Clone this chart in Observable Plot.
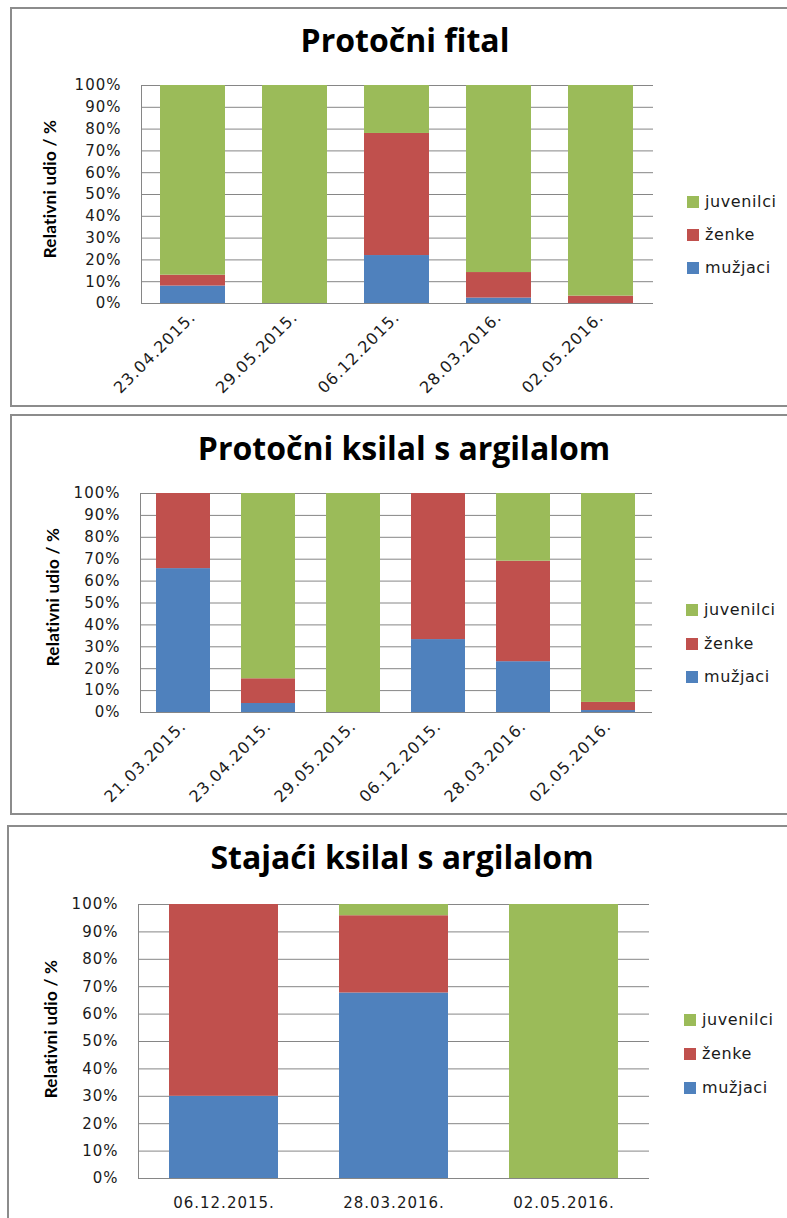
<!DOCTYPE html>
<html><head><meta charset="utf-8">
<script src="https://cdn.jsdelivr.net/npm/d3@7"></script>
<script src="https://cdn.jsdelivr.net/npm/@observablehq/plot@0.6"></script>
<style>
body{margin:0;background:#fff;}
#page{position:relative;width:787px;height:1218px;overflow:hidden;font-family:"DejaVu Sans",sans-serif;}
.panel{position:absolute;border:2px solid #8c8c8c;box-sizing:border-box;}
.title{position:absolute;width:600px;margin-left:-300px;text-align:center;font-family:"Open Sans",sans-serif;font-weight:bold;font-size:32px;line-height:32px;color:#000;white-space:nowrap;}
.ytitle{position:absolute;font-family:Lato,sans-serif;font-weight:bold;font-size:17px;letter-spacing:0.3px;white-space:nowrap;color:#000;transform:translate(-50%,-50%) rotate(-90deg);}
.chart{position:absolute;left:0;}
.leg{position:absolute;display:flex;align-items:center;font-size:16px;letter-spacing:0.6px;color:#1a1a1a;line-height:20px;height:20px;white-space:nowrap;}
.sw{width:12px;height:12px;margin-right:6px;flex:none;}
</style>
</head><body>
<div id="page"></div>
<script>
const series = ["mužjaci", "ženke", "juvenilci"];
const colors = ["#4F81BD", "#C0504D", "#9BBB59"];
const yTicks = [0, 10, 20, 30, 40, 50, 60, 70, 80, 90, 100];

const title1 = "Protočni fital";
const dates1 = ["23.04.2015.", "29.05.2015.", "06.12.2015.", "28.03.2016.", "02.05.2016."];
const muzjaci1 = [8, 0, 22, 2.5, 0];
const zenke1 = [5, 0, 56, 11.7, 3.4];
const juvenilci1 = [87, 100, 22, 85.8, 96.6];

const title2 = "Protočni ksilal s argilalom";
const dates2 = ["21.03.2015.", "23.04.2015.", "29.05.2015.", "06.12.2015.", "28.03.2016.", "02.05.2016."];
const muzjaci2 = [65.7, 4.1, 0, 33.3, 23.2, 0.9];
const zenke2 = [34.3, 11.3, 0, 66.7, 45.9, 3.7];
const juvenilci2 = [0, 84.6, 100, 0, 30.9, 95.4];

const title3 = "Stajaći ksilal s argilalom";
const dates3 = ["06.12.2015.", "28.03.2016.", "02.05.2016."];
const muzjaci3 = [30, 67.7, 0];
const zenke3 = [70, 28.2, 0];
const juvenilci3 = [0, 4.1, 100];

const yLabel = "Relativni udio / %";

const page = document.getElementById("page");

function el(cls, css, text) {
  const d = document.createElement("div");
  d.className = cls;
  Object.assign(d.style, css);
  if (text != null) d.textContent = text;
  page.appendChild(d);
  return d;
}

function chart(dates, m, z, j, o) {
  const rows = [];
  dates.forEach((d, i) => {
    rows.push({date: d, s: series[0], v: m[i]});
    rows.push({date: d, s: series[1], v: z[i]});
    rows.push({date: d, s: series[2], v: j[i]});
  });
  const svg = Plot.plot({
    width: 787, height: o.height,
    marginLeft: o.ml, marginRight: o.mr, marginTop: o.mt, marginBottom: o.mb,
    style: {fontFamily: "DejaVu Sans", fontSize: "15px", color: "#1a1a1a", background: "transparent", letterSpacing: "1px", overflow: "visible"},
    x: {domain: dates, paddingInner: 0.36, paddingOuter: 0.18, label: null},
    y: {domain: [0, 100], label: null},
    color: {domain: series, range: colors},
    marks: [
      Plot.ruleY(yTicks, {stroke: "#868686", strokeWidth: 1, strokeOpacity: 1}),
      Plot.barY(rows, {x: "date", y: "v", fill: "s", order: series}),
      Plot.frame({anchor: "left", stroke: "#868686", strokeOpacity: 1}),
      Plot.axisY({ticks: yTicks, tickSize: 0, tickPadding: 20, tickFormat: d => d + "%", label: null}),
      Plot.axisX({tickSize: 0, tickPadding: o.tp, tickRotate: o.rot, label: null, fontSize: o.xfs})
    ]
  });
  svg.classList.add("chart");
  svg.style.top = o.top + "px";
  page.appendChild(svg);
}

function legend(x, ys) {
  const order = [2, 1, 0];
  order.forEach((k, i) => {
    const row = el("leg", {left: x + "px", top: (ys[i] - 10) + "px"});
    const sw = document.createElement("div");
    sw.className = "sw";
    sw.style.background = colors[k];
    row.appendChild(sw);
    row.appendChild(document.createTextNode(series[k]));
  });
}

// panel borders
el("panel", {left: "10px", top: "7px", width: "800px", height: "400px"});
el("panel", {left: "10px", top: "414px", width: "800px", height: "401px"});
el("panel", {left: "7px", top: "825px", width: "800px", height: "420px"});

// panel 1
el("title", {left: "405px", top: "24px"}, title1);
el("ytitle", {left: "49px", top: "189px"}, yLabel);
chart(dates1, muzjaci1, zenke1, juvenilci1, {top: 60, height: 330, ml: 141, mr: 134, mt: 25, mb: 87, tp: 11, rot: -45, xfs: 16});
legend(687, [202, 235, 268]);

// panel 2
el("title", {left: "404px", top: "432px"}, title2);
el("ytitle", {left: "52px", top: "597px"}, yLabel);
chart(dates2, muzjaci2, zenke2, juvenilci2, {top: 470, height: 330, ml: 140, mr: 135, mt: 23, mb: 88, tp: 11, rot: -45, xfs: 16});
legend(686, [610, 644, 677]);

// panel 3
el("title", {left: "402px", top: "841px"}, title3);
el("ytitle", {left: "50px", top: "1029px"}, yLabel);
chart(dates3, muzjaci3, zenke3, juvenilci3, {top: 880, height: 338, ml: 138, mr: 138, mt: 24, mb: 40, tp: 19, rot: 0, xfs: 15});
legend(684, [1020, 1054, 1088]);
</script>
</body></html>
